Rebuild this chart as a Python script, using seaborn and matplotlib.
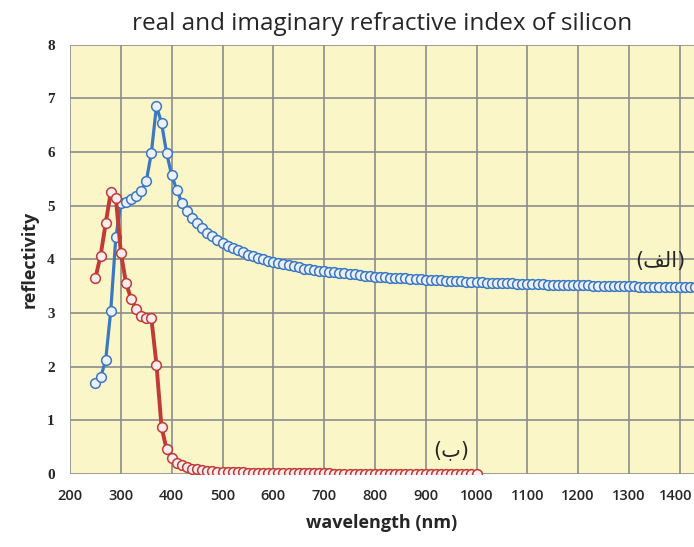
import numpy as np
import pandas as pd
import seaborn as sns
import matplotlib.pyplot as plt
import matplotlib.transforms as mtransforms

# ---------------- data ----------------
blue_wl = list(range(250, 1450, 10))
blue_n = [1.69, 1.80, 2.12, 3.04, 4.41, 5.05, 5.07, 5.12, 5.19, 5.28,
          5.46, 5.99, 6.86, 6.54, 5.98, 5.57, 5.29, 5.06, 4.91, 4.78,
          4.67, 4.58, 4.50, 4.43, 4.36, 4.30, 4.25, 4.21, 4.17, 4.13,
          4.09, 4.06, 4.03, 4.00, 3.97, 3.95, 3.93, 3.91, 3.89, 3.87,
          3.85, 3.83, 3.82, 3.80, 3.79, 3.78, 3.77, 3.76, 3.75, 3.74,
          3.73, 3.72, 3.71, 3.70, 3.69, 3.68, 3.675, 3.67, 3.66, 3.655,
          3.65, 3.645, 3.64, 3.635, 3.63, 3.625, 3.62, 3.615, 3.61, 3.605,
          3.60, 3.595, 3.59, 3.585, 3.58, 3.575, 3.572, 3.568, 3.565, 3.562,
          3.558, 3.555, 3.552, 3.549, 3.546, 3.543, 3.540, 3.537, 3.535, 3.532,
          3.530, 3.527, 3.525, 3.522, 3.520, 3.518, 3.516, 3.514, 3.512, 3.510,
          3.508, 3.506, 3.504, 3.502, 3.500, 3.498, 3.497, 3.495, 3.494, 3.492,
          3.491, 3.489, 3.488, 3.487, 3.486, 3.485, 3.484, 3.483, 3.482, 3.481]

red_wl = list(range(250, 1010, 10))
red_k = [3.66, 4.07, 4.67, 5.25, 5.15, 4.12, 3.56, 3.27, 3.08, 2.94,
         2.90, 2.90, 2.04, 0.87, 0.46, 0.29, 0.21, 0.16, 0.13, 0.10,
         0.085, 0.07, 0.06, 0.05, 0.045, 0.04, 0.036, 0.033, 0.030, 0.028,
         0.026, 0.024, 0.022, 0.020, 0.019, 0.018, 0.017, 0.016, 0.015, 0.014,
         0.013, 0.012, 0.011, 0.010, 0.010, 0.009, 0.009, 0.008, 0.008, 0.007,
         0.007, 0.006, 0.006, 0.006, 0.005, 0.005, 0.005, 0.004, 0.004, 0.004,
         0.004, 0.003, 0.003, 0.003, 0.003, 0.003, 0.002, 0.002, 0.002, 0.002,
         0.002, 0.002, 0.002, 0.001, 0.001, 0.001]

x_ticks = [200, 300, 400, 500, 600, 700, 800, 900, 1000, 1100, 1200, 1300, 1400]
y_ticks = [0, 1, 2, 3, 4, 5, 6, 7, 8]

title = "real and imaginary refractive index of silicon"
x_label = "wavelength (nm)"
y_label = "reflectivity"
label_a = "(\uFED2\uFEDF\uFE8D)"   # (الف) in visual order
label_b = "(\uFE8F)"               # (ب)

# ---------------- plot ----------------
sns.set_style("white")
plt.rcParams['font.family'] = ['DejaVu Sans']

df_n = pd.DataFrame({"wl": blue_wl, "val": blue_n})
df_k = pd.DataFrame({"wl": red_wl, "val": red_k})

fig, ax = plt.subplots(figsize=(6.94, 5.47), dpi=100)
fig.subplots_adjust(left=0.101, right=1.0, top=0.918, bottom=0.1335)

ax.set_facecolor("#FBF6C8")
ax.set_axisbelow(True)
ax.grid(True, color="#8c8c8c", linewidth=1.2)

blue = "#3A78C2"
red = "#C23A36"
sns.lineplot(data=df_n, x="wl", y="val", ax=ax, color=blue, linewidth=2.3,
             marker="o", markersize=7, markerfacecolor="#EDF0F8",
             markeredgecolor=blue, markeredgewidth=1.1, zorder=3)
sns.lineplot(data=df_k, x="wl", y="val", ax=ax, color=red, linewidth=2.8,
             marker="o", markersize=7, markerfacecolor="#F7ECEE",
             markeredgecolor=red, markeredgewidth=1.1, zorder=4)

ax.set_xlim(200, 1428)
ax.set_ylim(0, 8)
ax.set_xticks(x_ticks)
ax.set_yticks(y_ticks)
ax.set_xticklabels([str(v) for v in x_ticks], fontfamily="Open Sans",
                   fontsize=10.5, fontweight="semibold")
ax.set_yticklabels([str(v) for v in y_ticks], fontfamily="Liberation Serif",
                   fontsize=11, fontweight="bold")
ax.tick_params(axis="both", length=5, color="#8c8c8c", width=1.0,
               direction="out", pad=6)
for s in ax.spines.values():
    s.set_visible(False)

# keep the last x tick label inside the canvas
last = ax.get_xticklabels()[-1]
last.set_transform(last.get_transform() +
                   mtransforms.ScaledTranslation(-4 / 100, 0, fig.dpi_scale_trans))

ax.set_title(title, fontfamily="Open Sans", fontsize=17.5, pad=11)
ax.set_xlabel(x_label, fontfamily="Open Sans", fontsize=13,
              fontweight="bold", labelpad=8)
ax.set_ylabel(y_label, fontfamily="Open Sans", fontsize=13,
              fontweight="bold", labelpad=6)

ax.text(1362, 3.97, label_a, fontsize=15, ha="center", va="center",
        family="DejaVu Sans")
ax.text(950, 0.45, label_b, fontsize=15, ha="center", va="center",
        family="DejaVu Sans")

fig.savefig("out.png", dpi=100)
